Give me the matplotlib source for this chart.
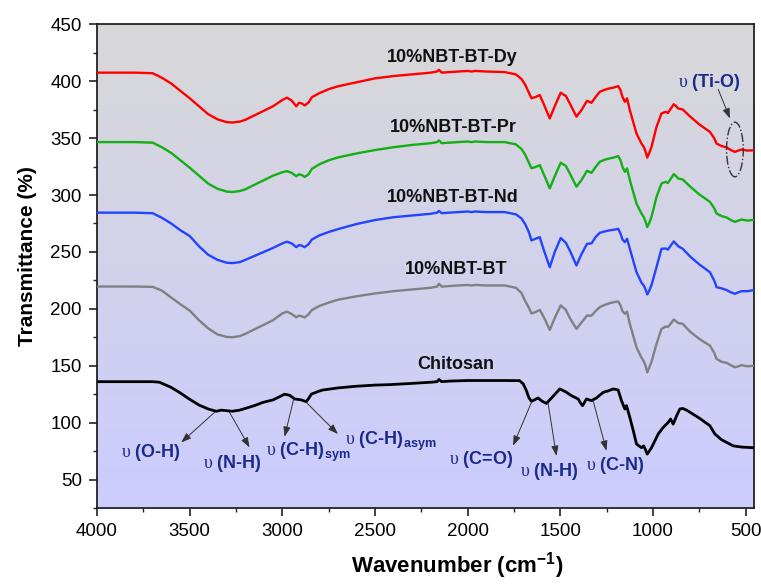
import numpy as np
import matplotlib
matplotlib.use("Agg")
import matplotlib.pyplot as plt
from matplotlib.patches import Ellipse

plt.rcParams['font.family'] = ['Liberation Sans', 'DejaVu Sans']
plt.rcParams['mathtext.fontset'] = 'custom'
plt.rcParams['mathtext.rm'] = 'Liberation Serif'
plt.rcParams['mathtext.bf'] = 'Liberation Sans:bold'

# wavenumber grid shared by the four NBT-BT spectra (cm-1)
wn_nbt = [4000, 3800, 3700, 3650, 3600, 3550, 3500, 3450, 3400, 3350, 3300, 3270, 3230, 3200,
          3150, 3100, 3050, 3000, 2975, 2950, 2925, 2910, 2895, 2880, 2860, 2840, 2800, 2750,
          2700, 2600, 2500, 2400, 2300, 2200, 2165, 2155, 2140, 2100, 2050, 2000, 1980, 1960,
          1900, 1800, 1740, 1710, 1690, 1670, 1656, 1635, 1611, 1590, 1557, 1530, 1498, 1470,
          1449, 1413, 1386, 1356, 1332, 1310, 1287, 1260, 1233, 1210, 1188, 1175, 1165, 1152,
          1140, 1125, 1089, 1062, 1050, 1040, 1031, 1020, 1008, 981, 954, 931, 920, 909, 888,
          875, 864, 840, 800, 750, 693, 670, 657, 630, 603, 580, 558, 540, 522, 490, 455]

t_dy = [407.5, 407.5, 407, 403, 398, 391.5, 385, 378, 371, 366.5, 364, 363.7, 364.5, 366,
        370, 374, 378, 383.5, 385.5, 383, 378, 381, 380.5, 378.7, 381, 386, 389.5, 393,
        395.5, 399, 402.5, 404.5, 406, 407.5, 408.5, 410, 407.5, 408, 408.5, 409, 408.5, 409,
        408.5, 408, 406, 402, 397, 390, 385, 386, 387.8, 380, 367.3, 378, 389.9, 387,
        380.5, 368.8, 374.6, 382.8, 381, 386, 390.7, 392.5, 393.7, 394.5, 395.7, 392, 386.3, 381.9,
        384.9, 374.6, 354, 345.2, 342.3, 338, 332.9, 337, 342.3, 359.9, 371.7, 373.1, 372, 374.6, 379.8,
        378, 376, 375.2, 369, 362, 355.5, 350, 345.2, 343, 341.8, 339.5, 337.9, 339, 340, 339, 339.3]

t_pr = [346.5, 346.5, 346, 342, 337, 330.5, 324, 317, 310, 305.5, 303, 302.6, 303.5, 305,
        309, 313, 317, 320, 321, 319.5, 316.5, 318.2, 317.5, 315.9, 318, 323, 327, 330.5,
        333, 336.5, 339.5, 342, 344, 345.5, 346.5, 348, 345.5, 346, 346.5, 347, 346.5, 347,
        346.5, 346.5, 344.5, 340.5, 335.5, 328.5, 323.5, 324.5, 326.3, 318.5, 305.8, 316.5, 328.4, 325.5,
        319, 307.3, 313.1, 321.3, 319.5, 324.5, 329.2, 331, 332.2, 333, 334.2, 330.5, 324.8, 320.4,
        323.4, 313.1, 292.5, 283.7, 280.8, 276.5, 271.8, 275.5, 280.8, 298.4, 310.2, 311.6, 310.5, 313.1, 318.3,
        316.5, 314.5, 313.7, 307.5, 300.5, 294, 288.5, 283.7, 281.5, 280.3, 278, 276.4, 277.5, 278.5, 277.5, 278.2]

t_nd = [284.5, 284.5, 284, 280, 275, 269, 264, 255, 247.5, 243, 240.5, 240.2, 241, 243,
        246.5, 250, 253.5, 257.5, 259, 257.5, 254.2, 256, 255.5, 254.2, 256.5, 261, 264.5, 267.5,
        270, 274.5, 278, 280.5, 282, 283.5, 284.5, 286, 284, 284.5, 285, 285.5, 285, 285.5,
        285, 285, 283, 279.5, 274.5, 267.5, 260.1, 261.5, 263, 252, 236.6, 250, 262.2, 258,
        251.3, 238.1, 248, 257.1, 257.5, 263, 266.8, 268, 269, 269.5, 270.3, 266, 261, 258.6,
        261.5, 252.8, 232.2, 223, 220.5, 217, 212.6, 216, 221, 236.6, 252.8, 253, 252, 254.5, 259.2,
        257, 255, 252.8, 246, 239, 232.2, 225, 219, 218, 216.5, 214.5, 213.2, 214.5, 215.5, 215.5, 216.5]

t_bt = [219.6, 219.6, 219.3, 216, 210, 204, 198.5, 190, 182.8, 177.5, 175.3, 175, 176, 178,
        182, 186, 190, 196, 197.5, 195.5, 192.6, 194, 193.5, 192.4, 195, 199, 202.5, 205.5,
        208, 211, 213.5, 215.5, 217, 218.5, 219.5, 222, 219.5, 220, 220.5, 221, 220.5, 221,
        220.5, 220.5, 218.5, 214, 207, 201, 196, 197, 199.1, 193, 181.5, 192, 203, 199,
        192, 182.4, 188, 194.1, 194, 198, 201.5, 203.5, 205, 205.9, 206.5, 203, 198, 195.6,
        197.5, 186.8, 166.2, 157, 154, 150, 144.2, 148.5, 153.5, 169.2, 182.4, 184.5, 184, 186, 190.6,
        189, 187.5, 186.8, 180, 173.5, 167.7, 161.5, 156, 153.5, 152.5, 150.5, 148.6, 149.5, 150.5, 149.5, 150.1]

wn_chi = [4000, 3800, 3700, 3663, 3600, 3550, 3500, 3450, 3400, 3357, 3330, 3300, 3270, 3230,
          3200, 3150, 3105, 3050, 3000, 2988, 2960, 2934, 2898, 2871, 2855, 2844, 2800, 2781,
          2700, 2600, 2500, 2421, 2300, 2200, 2165, 2155, 2140, 2100, 2000, 1900, 1800, 1720,
          1700, 1683, 1670, 1656, 1640, 1620, 1600, 1575, 1540, 1503, 1470, 1440, 1404, 1390,
          1380, 1369, 1359, 1332, 1305, 1269, 1240, 1215, 1188, 1170, 1152, 1143, 1125, 1105,
          1089, 1062, 1050, 1040, 1031, 1020, 1008, 990, 972, 945, 918, 905, 891, 870, 855,
          840, 819, 750, 693, 666, 630, 567, 520, 459]
t_chi = [136, 136, 136, 135.5, 131, 126, 120.5, 115.5, 112, 110, 111, 110.5, 110, 111,
         112.5, 115, 117.8, 120, 124, 125, 124, 120.8, 120, 118.4, 122, 125, 127.8, 128.7,
         130.5, 132, 133, 133.4, 134.5, 135.5, 136, 138, 136, 136.5, 137, 137, 137, 136.9,
         134, 128, 122, 118.7, 120, 121.7, 119, 116.9, 123, 129.6, 127, 123.7, 120.8, 117,
         114.9, 118, 120.8, 119.3, 121.7, 126.6, 128, 129.6, 128.7, 119.3, 112, 115, 104.6, 92,
         81.2, 78, 79.6, 76, 72.4, 75, 78, 84, 90, 95.8, 100.2, 103.2, 98.7, 107, 112,
         112.5, 111, 104, 97.3, 90, 85, 79.6, 78.5, 78]

names = ['10%NBT-BT-Dy', '10%NBT-BT-Pr', '10%NBT-BT-Nd', '10%NBT-BT', 'Chitosan']
colors = ['#ff0000', '#12b012', '#2244ff', '#808080', '#000000']
name_pos = [(2083, 417), (2080, 355.5), (2080, 293.8), (2061, 230.2), (2066, 147.2)]

# band labels: text, text position (left, baseline), arrow tail, arrow head
bands = [
    (r'$\mathrm{υ}$ (O-H)', (3870, 69.4), (3366, 109), (3546, 82.6)),
    (r'$\mathrm{υ}$ (N-H)', (3430, 60), (3285, 109), (3177, 78.2)),
    (r'$\mathrm{υ}$ (C-H)$_{\mathbf{sym}}$', (3087, 71), (2940, 119.9), (2988, 87.6)),
    (r'$\mathrm{υ}$ (C-H)$_{\mathbf{asym}}$', (2664, 80.3), (2871, 117.8), (2700, 90)),
    (r'$\mathrm{υ}$ (C=O)', (2101, 64), (1656, 117.8), (1755, 79.7)),
    (r'$\mathrm{υ}$ (N-H)', (1719, 53.3), (1566, 117), (1521, 70.8)),
    (r'$\mathrm{υ}$ (C-N)', (1359, 58.3), (1323, 119.3), (1251, 75.3)),
    (r'$\mathrm{υ}$ (Ti-O)', (864, 394.5), (648, 392.8), (585, 367.3)),
]

fig = plt.figure(figsize=(7.61, 5.85), dpi=100)
ax = fig.add_axes([0.1275, 0.1316, 0.8633, 0.8269])

# gray -> lavender background
top = np.array([216, 216, 216]) / 255
bot = np.array([204, 204, 255]) / 255
s = np.linspace(0, 1, 256)[:, None]
grad = (top * (1 - s) + bot * s).reshape(256, 1, 3)
ax.imshow(grad, extent=[0, 1, 0, 1], transform=ax.transAxes, aspect='auto',
          zorder=0, interpolation='bilinear')

spectra = [(wn_nbt, t_dy), (wn_nbt, t_pr), (wn_nbt, t_nd), (wn_nbt, t_bt), (wn_chi, t_chi)]
for (x, y), c, nm, pos in zip(spectra, colors, names, name_pos):
    ax.plot(x, y, color=c, lw=1.7 if c != '#000000' else 2.0, zorder=3,
            solid_joinstyle='round')
    ax.text(pos[0], pos[1], nm, ha='center', va='baseline', fontsize=13,
            fontweight='bold', color='#111111', zorder=4)

navy = '#1a2a8c'
for txt, tpos, tail, head in bands:
    ax.text(tpos[0], tpos[1], txt, ha='left', va='baseline', fontsize=13,
            fontweight='bold', color=navy, zorder=4)
    ax.annotate('', xy=head, xytext=tail,
                arrowprops=dict(arrowstyle='-|>,head_length=0.5,head_width=0.18',
                                color='#333333', lw=0.7, mutation_scale=12,
                                shrinkA=0, shrinkB=0), zorder=4)

ax.add_patch(Ellipse((558, 340), width=90, height=48, fill=False, ls='-.',
                     ec='#333333', lw=1.0, zorder=4))

ax.set_xlim(4000, 455)
ax.set_ylim(25, 450)
ax.set_xticks(np.arange(4000, 499, -500))
ax.set_xticks(np.arange(3750, 499, -250), minor=True)
ax.set_yticks(np.arange(50, 451, 50))
ax.set_yticks(np.arange(25, 451, 25), minor=True)
ax.tick_params(which='major', length=6, width=1.2, labelsize=13.5, pad=5, color='#222222')
ax.tick_params(which='minor', length=3, width=1.0, color='#222222')
for sp in ax.spines.values():
    sp.set_linewidth(1.3)
    sp.set_color('#222222')

ax.set_xlabel(r'Wavenumber (cm$^{\mathbf{-1}}$)', fontsize=16, fontweight='bold')
ax.set_ylabel('Transmittance (%)', fontsize=15, fontweight='bold')
ax.xaxis.set_label_coords(0.548, -0.088)
ax.yaxis.set_label_coords(-0.092, 0.52)

fig.savefig('out.png', dpi=100)
